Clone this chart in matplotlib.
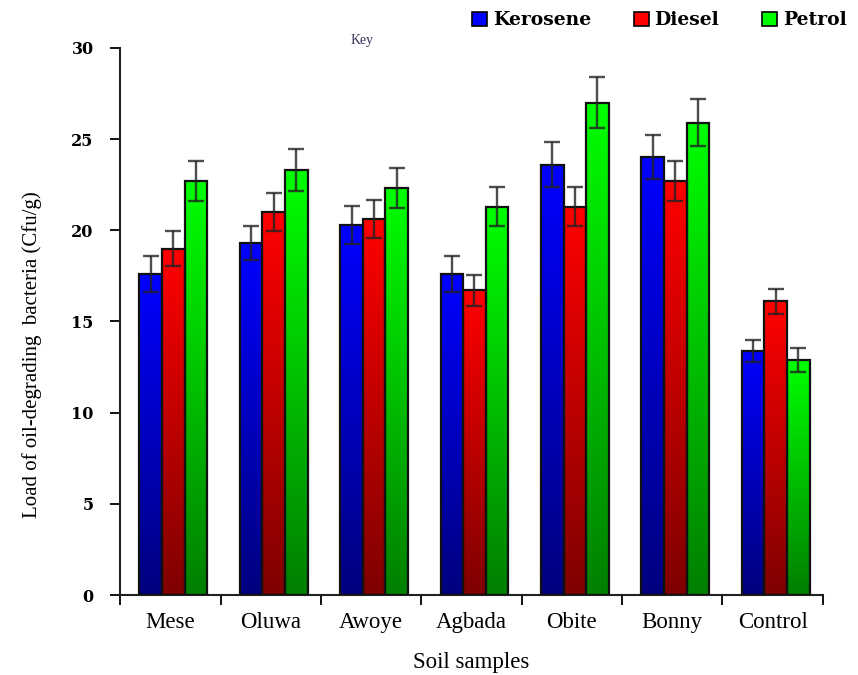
import numpy as np
import matplotlib.pyplot as plt
from matplotlib.patches import Rectangle, Patch

# Soil samples and measured loads (Cfu/g) for each oil type
samples = ["Mese", "Oluwa", "Awoye", "Agbada", "Obite", "Bonny", "Control"]
series = ["Kerosene", "Diesel", "Petrol"]

kerosene = [17.6, 19.3, 20.3, 17.6, 23.6, 24.0, 13.4]
diesel = [19.0, 21.0, 20.6, 16.7, 21.3, 22.7, 16.1]
petrol = [22.7, 23.3, 22.3, 21.3, 27.0, 25.9, 12.9]

kerosene_err = [1.0, 0.95, 1.05, 1.0, 1.25, 1.2, 0.6]
diesel_err = [0.95, 1.05, 1.05, 0.85, 1.05, 1.1, 0.7]
petrol_err = [1.1, 1.15, 1.1, 1.05, 1.4, 1.3, 0.65]

values = [kerosene, diesel, petrol]
errors = [kerosene_err, diesel_err, petrol_err]
top_colors = [(0.0, 0.0, 1.0), (1.0, 0.0, 0.0), (0.0, 1.0, 0.0)]

fig = plt.figure(figsize=(8.58, 6.75), dpi=100)
ax = fig.add_axes([0.140, 0.1185, 0.819, 0.8105])

x = np.arange(len(samples))
width = 0.225

for k, (vals, errs, col) in enumerate(zip(values, errors, top_colors)):
    offset = (k - 1) * width + 0.03
    # vertical gradient: bright at the top, darker towards the base
    shade = np.linspace(1.0, 0.5, 64)[:, None, None]
    grad = np.array(col)[None, None, :] * shade
    for xi, v in zip(x, vals):
        x0 = xi + offset - width / 2
        ax.imshow(grad, extent=[x0, x0 + width, 0, v], aspect="auto",
                  interpolation="bilinear", zorder=2)
        ax.add_patch(Rectangle((x0, 0), width, v, facecolor="none",
                               edgecolor="#111111", linewidth=1.6, zorder=3))
    ax.errorbar(x + offset, vals, yerr=errs, fmt="none", ecolor="#222222",
                elinewidth=1.7, capsize=6, capthick=1.7, alpha=0.8, zorder=4)

ax.set_xlim(-0.5, len(samples) - 0.5)
ax.set_ylim(0, 30)

for side in ["top", "right"]:
    ax.spines[side].set_visible(False)
for side in ["left", "bottom"]:
    ax.spines[side].set_linewidth(1.5)
    ax.spines[side].set_color("#222222")

ax.set_yticks(np.arange(0, 31, 5))
ax.tick_params(axis="y", direction="out", length=7, width=1.3, pad=12,
               labelsize=11.5)
for lab in ax.get_yticklabels():
    lab.set_fontfamily("DejaVu Serif")
    lab.set_fontweight("bold")

# category boundaries carry the tick marks, names sit between them
ax.set_xticks(np.arange(-0.5, len(samples), 1.0))
ax.set_xticklabels([])
ax.tick_params(axis="x", direction="out", length=7, width=1.3)
ax.set_xticks(x, minor=True)
ax.set_xticklabels(samples, minor=True, fontsize=16.5,
                   fontfamily="Liberation Serif")
ax.tick_params(axis="x", which="minor", length=0, pad=12)

ax.set_ylabel("Load of oil-degrading  bacteria (Cfu/g)", fontsize=15,
              fontfamily="Liberation Serif")
ax.yaxis.set_label_coords(-0.111, 0.44)
ax.set_xlabel("Soil samples", fontsize=16.5, fontfamily="Liberation Serif",
              labelpad=14)

fig.text(0.408, 0.935, "Key", fontsize=10, fontfamily="Liberation Serif",
         color="#3a2f5a")

handles = [Patch(facecolor=c, edgecolor="black", linewidth=1.2)
           for c in top_colors]
fig.legend(handles, series, ncol=3, loc="upper right",
           bbox_to_anchor=(1.0, 1.0), frameon=False,
           prop={"family": "DejaVu Serif", "weight": "bold", "size": 13.5},
           handlelength=0.8, handleheight=0.8, handletextpad=0.3,
           columnspacing=2.3, borderaxespad=0.2)

fig.savefig("out.png", dpi=100)
